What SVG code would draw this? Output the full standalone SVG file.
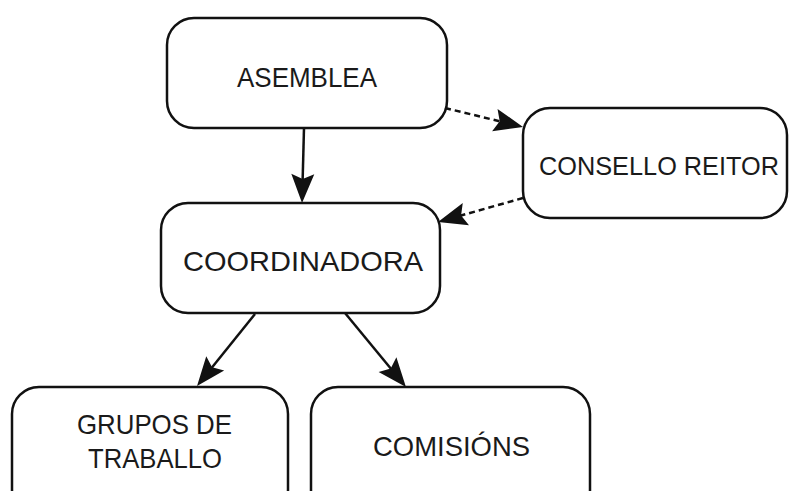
<svg xmlns="http://www.w3.org/2000/svg" width="789" height="491" viewBox="0 0 789 491">
<style>
.box{fill:#fff;stroke:#111;stroke-width:2.5}
.lbl{font-family:"Liberation Sans",Arial,sans-serif;font-size:28px;fill:#1a1a1a}
.edge{fill:none;stroke:#111;stroke-width:2.5}
.dash{stroke-dasharray:6,4}
</style>
<defs>
<marker id="ah" markerUnits="userSpaceOnUse" viewBox="-24 -14 38 28" refX="0" refY="0" markerWidth="38" markerHeight="28" orient="auto">
<path d="M10,0 L-19,-11.5 L-14,0 L-19,11.5 Z" fill="#111"/>
</marker>
</defs>
<rect width="789" height="491" fill="#fff"/>
<g id="asemblea">
<rect class="box" x="167" y="18" width="280" height="110" rx="27"/>
<text class="lbl" x="237" y="87" textLength="140" lengthAdjust="spacingAndGlyphs">ASEMBLEA</text>
</g>
<g id="consello">
<rect class="box" x="523" y="108" width="264" height="110" rx="27"/>
<text class="lbl" x="539" y="174.5" style="font-size:25.3px" textLength="240" lengthAdjust="spacingAndGlyphs">CONSELLO REITOR</text>
</g>
<g id="coordinadora">
<rect class="box" x="161" y="203" width="279" height="110" rx="27"/>
<text class="lbl" x="183" y="271" textLength="240" lengthAdjust="spacingAndGlyphs">COORDINADORA</text>
</g>
<g id="grupos">
<rect class="box" x="12" y="387" width="276" height="130" rx="27"/>
<text class="lbl" x="77" y="434" textLength="155" lengthAdjust="spacingAndGlyphs">GRUPOS DE</text>
<text class="lbl" x="88" y="468" textLength="134" lengthAdjust="spacingAndGlyphs">TRABALLO</text>
</g>
<g id="comisions">
<rect class="box" x="311" y="387" width="279" height="130" rx="27"/>
<text class="lbl" x="373" y="456" textLength="157" lengthAdjust="spacingAndGlyphs">COMISIÓNS</text>
</g>
<g id="connectors">
<line class="edge" x1="304" y1="128" x2="302.3" y2="193" marker-end="url(#ah)"/>
<line class="edge" x1="255" y1="314" x2="203.3" y2="378.2" marker-end="url(#ah)"/>
<line class="edge" x1="345" y1="313" x2="399.6" y2="379.3" marker-end="url(#ah)"/>
<line class="edge dash" x1="445" y1="108" x2="513.3" y2="124.6" marker-end="url(#ah)"/>
<line class="edge dash" x1="523" y1="198" x2="447.6" y2="219.3" marker-end="url(#ah)"/>
</g>
</svg>
